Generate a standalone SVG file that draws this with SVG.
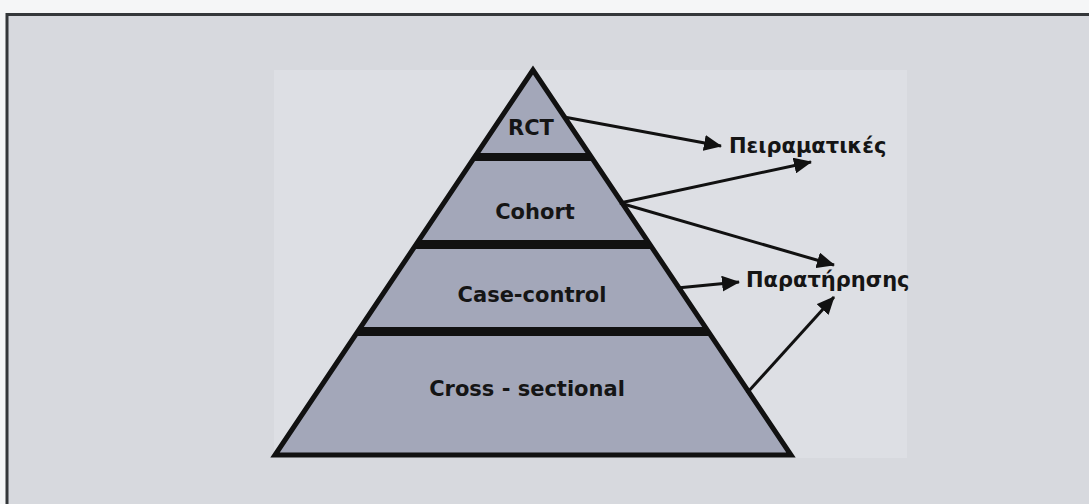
<svg xmlns="http://www.w3.org/2000/svg" width="1089" height="504" viewBox="0 0 1089 504">
  <defs>
    <style>
      .lbl { font-family: "DejaVu Sans", Verdana, sans-serif; font-weight: bold; font-size: 21px; fill: #151515; text-anchor: middle; }
      .glbl { font-family: "DejaVu Sans", Verdana, sans-serif; font-weight: bold; font-size: 21px; fill: #151515; }
      .conn { stroke: #111; stroke-width: 3; fill: none; marker-end: url(#ah); }
      .bar { fill: #111; }
    </style>
    <marker id="ah" markerUnits="userSpaceOnUse" markerWidth="18" markerHeight="16" refX="17" refY="8" orient="auto">
      <path d="M0,0 L18,8 L0,16 z" fill="#111"/>
    </marker>
    <clipPath id="tri">
      <polygon points="533,70 275,455 791,455"/>
    </clipPath>
  </defs>
  <rect x="0" y="0" width="1089" height="504" fill="#f5f6f7"/>
  <rect x="6" y="14" width="1083" height="490" fill="#d7d9de"/>
  <path d="M7,504 V14.5 H1089" fill="none" stroke="#34373a" stroke-width="3"/>
  <rect x="274" y="70" width="633" height="388" fill="#dddfe4"/>

  <g id="pyramid">
    <polygon points="533,70 275,455 791,455" fill="#a3a7b9" stroke="#111" stroke-width="5" stroke-linejoin="miter"/>
    <g clip-path="url(#tri)">
      <rect class="bar" x="260" y="153" width="560" height="8"/>
      <rect class="bar" x="260" y="240" width="560" height="9"/>
      <rect class="bar" x="260" y="327" width="560" height="9"/>
    </g>
  </g>

  <g id="rct"><text class="lbl" x="531" y="135">RCT</text></g>
  <g id="cohort"><text class="lbl" x="535" y="219">Cohort</text></g>
  <g id="case-control"><text class="lbl" x="532" y="302">Case-control</text></g>
  <g id="cross-sectional"><text class="lbl" x="527" y="396">Cross - sectional</text></g>
  <g id="experimental"><text class="glbl" x="729" y="153">Πειραματικές</text></g>
  <g id="observational"><text class="glbl" x="746" y="287">Παρατήρησης</text></g>

  <g id="connectors">
    <line class="conn" x1="564" y1="117" x2="721" y2="146"/>
    <line class="conn" x1="620" y1="203" x2="811" y2="162"/>
    <line class="conn" x1="620" y1="203" x2="834" y2="265"/>
    <line class="conn" x1="677" y1="288" x2="739" y2="282"/>
    <line class="conn" x1="747" y1="393" x2="834" y2="297"/>
  </g>
</svg>
